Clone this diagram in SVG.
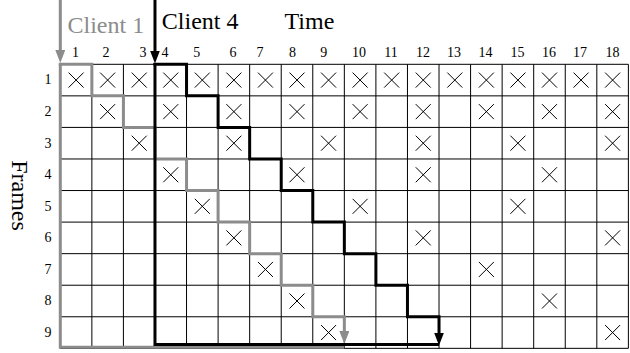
<svg xmlns="http://www.w3.org/2000/svg" xmlns:xlink="http://www.w3.org/1999/xlink" width="630" height="353" viewBox="0 0 630 353" font-family="'Liberation Serif', 'Times New Roman', 'DejaVu Serif', serif">
<style>
text{font-family:'Liberation Serif','Times New Roman','DejaVu Serif',serif;fill:#000}
.big{font-size:24px}
.num{font-size:14px;text-anchor:middle}
.gt{fill:#8c8c8c}
.grid line{stroke:#000;stroke-width:1}
.mk{fill:none;stroke:#000;stroke-width:1}
.g{fill:none;stroke:#8c8c8c;stroke-width:3}
.k{fill:none;stroke:#000;stroke-width:3}
</style>
<defs>
<marker id="ag" markerUnits="userSpaceOnUse" markerWidth="14" markerHeight="10" refX="3" refY="5" orient="auto"><path d="M0,0L13,5L0,10z" fill="#8c8c8c"/></marker>
<marker id="ak" markerUnits="userSpaceOnUse" markerWidth="14" markerHeight="10" refX="3" refY="5" orient="auto"><path d="M0,0L13,5L0,10z" fill="#000"/></marker>
<path id="xm" d="M-7.5,-7.5L7.5,7.5M7.5,-7.5L-7.5,7.5"/>
</defs>
<rect width="630" height="353" fill="#fff"/>
<g id="grid" class="grid">
<line x1="60.3" y1="64.3" x2="628.38" y2="64.3"/>
<line x1="60.3" y1="95.86" x2="628.38" y2="95.86"/>
<line x1="60.3" y1="127.42" x2="628.38" y2="127.42"/>
<line x1="60.3" y1="158.98" x2="628.38" y2="158.98"/>
<line x1="60.3" y1="190.54" x2="628.38" y2="190.54"/>
<line x1="60.3" y1="222.1" x2="628.38" y2="222.1"/>
<line x1="60.3" y1="253.66" x2="628.38" y2="253.66"/>
<line x1="60.3" y1="285.22" x2="628.38" y2="285.22"/>
<line x1="60.3" y1="316.78" x2="628.38" y2="316.78"/>
<line x1="60.3" y1="348.34" x2="628.38" y2="348.34"/>
<line x1="60.3" y1="64.3" x2="60.3" y2="348.34"/>
<line x1="91.86" y1="64.3" x2="91.86" y2="348.34"/>
<line x1="123.42" y1="64.3" x2="123.42" y2="348.34"/>
<line x1="154.98" y1="64.3" x2="154.98" y2="348.34"/>
<line x1="186.54" y1="64.3" x2="186.54" y2="348.34"/>
<line x1="218.1" y1="64.3" x2="218.1" y2="348.34"/>
<line x1="249.66" y1="64.3" x2="249.66" y2="348.34"/>
<line x1="281.22" y1="64.3" x2="281.22" y2="348.34"/>
<line x1="312.78" y1="64.3" x2="312.78" y2="348.34"/>
<line x1="344.34" y1="64.3" x2="344.34" y2="348.34"/>
<line x1="375.9" y1="64.3" x2="375.9" y2="348.34"/>
<line x1="407.46" y1="64.3" x2="407.46" y2="348.34"/>
<line x1="439.02" y1="64.3" x2="439.02" y2="348.34"/>
<line x1="470.58" y1="64.3" x2="470.58" y2="348.34"/>
<line x1="502.14" y1="64.3" x2="502.14" y2="348.34"/>
<line x1="533.7" y1="64.3" x2="533.7" y2="348.34"/>
<line x1="565.26" y1="64.3" x2="565.26" y2="348.34"/>
<line x1="596.82" y1="64.3" x2="596.82" y2="348.34"/>
<line x1="628.38" y1="64.3" x2="628.38" y2="348.34"/>
</g>
<g id="marks" class="mk">
<use xlink:href="#xm" x="76.08" y="80.08"/><use xlink:href="#xm" x="107.64" y="80.08"/><use xlink:href="#xm" x="139.2" y="80.08"/><use xlink:href="#xm" x="170.76" y="80.08"/><use xlink:href="#xm" x="202.32" y="80.08"/><use xlink:href="#xm" x="233.88" y="80.08"/><use xlink:href="#xm" x="265.44" y="80.08"/><use xlink:href="#xm" x="297" y="80.08"/><use xlink:href="#xm" x="328.56" y="80.08"/><use xlink:href="#xm" x="360.12" y="80.08"/><use xlink:href="#xm" x="391.68" y="80.08"/><use xlink:href="#xm" x="423.24" y="80.08"/><use xlink:href="#xm" x="454.8" y="80.08"/><use xlink:href="#xm" x="486.36" y="80.08"/><use xlink:href="#xm" x="517.92" y="80.08"/><use xlink:href="#xm" x="549.48" y="80.08"/><use xlink:href="#xm" x="581.04" y="80.08"/><use xlink:href="#xm" x="612.6" y="80.08"/>
<use xlink:href="#xm" x="107.64" y="111.64"/><use xlink:href="#xm" x="170.76" y="111.64"/><use xlink:href="#xm" x="233.88" y="111.64"/><use xlink:href="#xm" x="297" y="111.64"/><use xlink:href="#xm" x="360.12" y="111.64"/><use xlink:href="#xm" x="423.24" y="111.64"/><use xlink:href="#xm" x="486.36" y="111.64"/><use xlink:href="#xm" x="549.48" y="111.64"/><use xlink:href="#xm" x="612.6" y="111.64"/>
<use xlink:href="#xm" x="139.2" y="143.2"/><use xlink:href="#xm" x="233.88" y="143.2"/><use xlink:href="#xm" x="328.56" y="143.2"/><use xlink:href="#xm" x="423.24" y="143.2"/><use xlink:href="#xm" x="517.92" y="143.2"/><use xlink:href="#xm" x="612.6" y="143.2"/>
<use xlink:href="#xm" x="170.76" y="174.76"/><use xlink:href="#xm" x="297" y="174.76"/><use xlink:href="#xm" x="423.24" y="174.76"/><use xlink:href="#xm" x="549.48" y="174.76"/>
<use xlink:href="#xm" x="202.32" y="206.32"/><use xlink:href="#xm" x="360.12" y="206.32"/><use xlink:href="#xm" x="517.92" y="206.32"/>
<use xlink:href="#xm" x="233.88" y="237.88"/><use xlink:href="#xm" x="423.24" y="237.88"/><use xlink:href="#xm" x="612.6" y="237.88"/>
<use xlink:href="#xm" x="265.44" y="269.44"/><use xlink:href="#xm" x="486.36" y="269.44"/>
<use xlink:href="#xm" x="297" y="301"/><use xlink:href="#xm" x="549.48" y="301"/>
<use xlink:href="#xm" x="328.56" y="332.56"/><use xlink:href="#xm" x="612.6" y="332.56"/>
</g>
<g id="connectors">
<g id="client1-path">
<path class="g" d="M60.3,0V53" marker-end="url(#ag)"/>
<path class="g" d="M60.3,64V347.3H344.34"/>
<path class="g" d="M58.8,64.3H91.86V95.86H123.42V127.42H154.98V158.98H186.54V190.54H218.1V222.1H249.66V253.66H281.22V285.22H312.78V316.78H344.34V334" marker-end="url(#ag)"/>
</g>
<g id="client4-path">
<path class="k" d="M154.98,0V53.5" marker-end="url(#ak)"/>
<path class="k" d="M154.98,63V344.6H439.02"/>
<path class="k" d="M153.5,64.3H186.54V95.86H218.1V127.42H249.66V158.98H281.22V190.54H312.78V222.1H344.34V253.66H375.9V285.22H407.46V316.78H439.02V335.5" marker-end="url(#ak)"/>
</g>
</g>
<g id="labels">
<text class="big gt" x="67.5" y="33">Client 1</text>
<text class="big" x="161.8" y="29.3">Client 4</text>
<text class="big" x="284.5" y="29.3">Time</text>
<text class="big" text-anchor="middle" transform="translate(11.7,195.5) rotate(90)">Frames</text>
</g>
<g id="col-numbers">
<text class="num" x="75.5" y="56.7">1</text><text class="num" x="106" y="56.7">2</text><text class="num" x="143" y="56.7">3</text><text class="num" x="165" y="56.7">4</text><text class="num" x="196.7" y="56.7">5</text><text class="num" x="233" y="56.7">6</text><text class="num" x="260" y="56.7">7</text><text class="num" x="292.5" y="56.7">8</text><text class="num" x="323.8" y="56.7">9</text><text class="num" x="359" y="56.7">10</text><text class="num" x="391" y="56.7">11</text><text class="num" x="423" y="56.7">12</text><text class="num" x="454" y="56.7">13</text><text class="num" x="485.5" y="56.7">14</text><text class="num" x="517.5" y="56.7">15</text><text class="num" x="549" y="56.7">16</text><text class="num" x="580" y="56.7">17</text><text class="num" x="612.5" y="56.7">18</text>
</g>
<g id="row-numbers">
<text class="num" x="48" y="84.4">1</text><text class="num" x="48" y="115.9">2</text><text class="num" x="48" y="147.5">3</text><text class="num" x="48" y="179.1">4</text><text class="num" x="48" y="210.6">5</text><text class="num" x="48" y="242.2">6</text><text class="num" x="48" y="273.7">7</text><text class="num" x="48" y="305.3">8</text><text class="num" x="48" y="336.9">9</text>
</g>
</svg>
